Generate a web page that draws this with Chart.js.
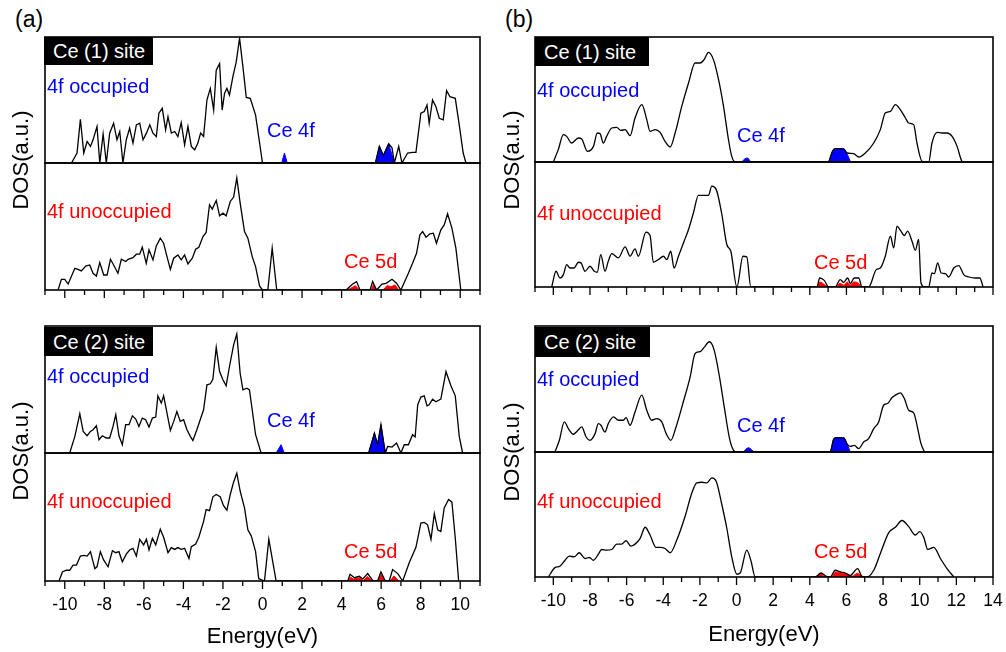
<!DOCTYPE html>
<html lang="en">
  <head>
    <meta charset="UTF-8" />
    <script src="https://cdn.jsdelivr.net/npm/chart.js@4.4.1/dist/chart.umd.min.js"></script>
    <style>
      body { margin: 0; background: #fff; }
      #fig { position: relative; width: 1006px; height: 652px; overflow: hidden; font-family: "Liberation Sans", Arial, sans-serif; }
      #fig canvas { position: absolute; }
      .lbl { position: absolute; line-height: 1; white-space: nowrap; }
      .site { position: absolute; background: #000; color: #fff; font-size: 20px; box-sizing: border-box; padding-left: 9px; }
      .ylab { position: absolute; font-size: 22px; white-space: nowrap; transform: translate(-50%, -50%) rotate(-90deg); }
    </style>
  </head>
  <body>
    <div id="fig"></div>

    <script>
      // tick labels for the two energy axes
      const aTickLabels = ["-10", "-8", "-6", "-4", "-2", "0", "2", "4", "6", "8", "10"];
      const bTickLabels = ["-10", "-8", "-6", "-4", "-2", "0", "2", "4", "6", "8", "10", "12", "14"];

      // (a) Ce(1) site, 4f occupied: total DOS and Ce 4f part  [energy eV, DOS a.u.]
      const aSite1Occ = [[-9.66,0],[-9.38,7.9],[-9.21,34.7],[-9.04,7.9],[-8.87,17.1],[-8.7,13.2],[-8.57,18.4],[-8.37,29],[-8.23,0],[-8.06,23],[-7.9,0],[-7.73,23.7],[-7.53,31.6],[-7.36,18.4],[-7.22,25],[-7.06,0],[-6.89,18.4],[-6.72,27.6],[-6.55,15.8],[-6.38,30.3],[-6.21,31.6],[-6.04,18.4],[-5.87,23.7],[-5.7,30.3],[-5.54,23.7],[-5.37,21],[-5.24,39.5],[-5.07,43.4],[-4.9,26.3],[-4.78,36.8],[-4.61,23.7],[-4.44,25],[-4.28,21],[-4.11,32],[-3.94,14.5],[-3.77,28.9],[-3.6,13.2],[-3.43,10.5],[-3.27,15.8],[-3.13,23.7],[-2.98,21],[-2.81,50],[-2.64,59.2],[-2.47,42],[-2.34,73.7],[-2.17,78.9],[-2.04,42],[-1.92,55.3],[-1.8,59.2],[-1.67,53.9],[-1.5,68.4],[-1.33,80],[-1.16,99],[-0.99,76.3],[-0.82,52],[-0.62,51.3],[-0.35,38],[0,0],[5.71,0],[5.91,13.2],[6.11,6],[6.38,15.3],[6.55,12],[6.67,0],[6.89,13.2],[7.05,0],[7.34,7.9],[7.59,8.4],[7.76,8.5],[8.01,39.5],[8.18,40.8],[8.32,46],[8.43,31.6],[8.6,50],[8.77,44.7],[8.94,35.5],[9.14,34.2],[9.31,57.4],[9.48,52.6],[9.75,51.3],[9.95,30.3],[10.15,7.9],[10.29,0]];
      const aSite1Ce4f = [[0.97,0],[1.11,7.9],[1.25,0],[5.71,0],[5.91,13.2],[6.11,6],[6.38,15.3],[6.67,0]];
      // (a) Ce(1) site, 4f unoccupied: total DOS and Ce 5d part
      const aSite1Unocc = [[-10.34,0],[-10.17,8.4],[-10,8.4],[-9.83,4.7],[-9.49,17.1],[-9.33,16.3],[-9.16,15],[-8.94,18.9],[-8.74,19.7],[-8.57,13.2],[-8.4,11],[-8.23,21.6],[-8.03,11.8],[-7.86,11.8],[-7.69,24.2],[-7.53,19.7],[-7.31,13.2],[-7.14,24.2],[-6.92,22.4],[-6.8,24.2],[-6.55,25.5],[-6.38,28.2],[-6.21,28.2],[-6.08,33.7],[-5.88,21],[-5.74,31.6],[-5.54,23.7],[-5.37,34.7],[-5.17,40.8],[-5,36.8],[-4.83,26.3],[-4.66,16.3],[-4.49,25],[-4.28,27.6],[-4.11,23.7],[-3.94,27.6],[-3.77,20.5],[-3.55,25],[-3.38,32.1],[-3.22,33.7],[-3.01,42.1],[-2.85,45.3],[-2.68,67.1],[-2.54,63.7],[-2.34,70.5],[-2.17,58.4],[-2,60.5],[-1.84,58.4],[-1.63,69.7],[-1.46,73.2],[-1.3,88.2],[-1.13,68.4],[-0.91,46],[-0.74,40.8],[-0.52,26.3],[-0.35,18.4],[-0.15,3.2],[0,0],[0.27,0],[0.49,32.9],[0.72,0],[4.23,0],[4.56,4.7],[4.76,6.6],[4.93,0],[5.44,0],[5.57,6.6],[5.77,0],[6.04,4.7],[6.25,5.3],[6.55,8.4],[6.78,5.3],[7,0],[7.34,11.8],[7.59,21],[7.79,28.9],[7.96,43.4],[8.1,46],[8.27,41.6],[8.47,44.2],[8.64,44.7],[8.8,36.8],[9.02,47.4],[9.19,51.3],[9.36,60],[9.58,48.7],[9.78,32.9],[10.03,0]];
      const aSite1Ce5d = [[4.3,0],[4.7,3.4],[4.9,0],[5.5,0],[5.6,4],[5.75,0],[6.1,0],[6.3,3.5],[6.5,2.5],[6.7,4],[6.9,0]];
      // (a) Ce(2) site
      const aSite2Occ = [[-9.75,0],[-9.49,13.1],[-9.24,30.9],[-9.07,17],[-8.87,13.6],[-8.7,17],[-8.57,18.3],[-8.4,21.5],[-8.27,10.5],[-8.1,13.6],[-7.9,11.8],[-7.73,11.8],[-7.56,20.9],[-7.42,30.1],[-7.26,13.6],[-7.09,6.5],[-6.92,22.3],[-6.75,22.3],[-6.58,29.3],[-6.41,26.7],[-6.25,20.9],[-6.08,27.5],[-5.91,26.2],[-5.74,20.4],[-5.57,27.5],[-5.4,28.3],[-5.29,45],[-5.12,39.3],[-5,45],[-4.83,31.4],[-4.66,17.8],[-4.49,24.9],[-4.33,32.7],[-4.16,24.9],[-3.99,26.2],[-3.82,18.3],[-3.65,13.1],[-3.52,9.9],[-3.32,18.3],[-3.15,26.2],[-2.98,34],[-2.81,53.7],[-2.64,54.5],[-2.51,58.1],[-2.34,83.2],[-2.17,64.1],[-2,57.6],[-1.84,52.9],[-1.67,68.1],[-1.46,85.1],[-1.3,93.7],[-1.13,62.8],[-0.99,49.7],[-0.79,51],[-0.66,49.7],[-0.52,34],[-0.35,14.4],[-0.07,0],[5.37,0],[5.66,15.7],[5.82,6.5],[5.99,22.3],[6.21,0],[6.33,5.2],[6.55,4.7],[6.78,7.9],[7,0],[7.17,6.5],[7.38,6.5],[7.59,14.4],[7.72,12.6],[7.85,38],[8.01,44],[8.18,45],[8.32,37.2],[8.43,38],[8.6,42.4],[8.77,40.3],[9.02,42.4],[9.28,64.1],[9.53,52.9],[9.75,45],[9.95,13.1],[10.12,0]];
      const aSite2Ce4f = [[0.69,0],[0.94,6.5],[1.1,0],[5.37,0],[5.66,15.7],[5.82,6.5],[5.99,22.3],[6.21,0]];
      const aSite2Unocc = [[-10.29,0],[-10.12,7.1],[-9.92,8.4],[-9.75,8.4],[-9.58,12.4],[-9.41,12.4],[-9.21,19.5],[-9.04,20],[-8.87,19.5],[-8.7,22.9],[-8.48,9.7],[-8.37,11.1],[-8.2,22.9],[-8.03,16.3],[-7.81,11.1],[-7.59,23.7],[-7.42,22.1],[-7.26,22.9],[-7.09,15],[-6.89,21],[-6.72,24.2],[-6.55,25.5],[-6.38,19.5],[-6.21,32.6],[-6.01,28.2],[-5.87,32.6],[-5.74,24.2],[-5.57,33.4],[-5.4,28.2],[-5.17,40.5],[-5,34.2],[-4.78,22.1],[-4.61,26.1],[-4.44,24.7],[-4.28,26.1],[-4.11,24.7],[-3.94,25.5],[-3.72,17.6],[-3.6,26.8],[-3.38,28.9],[-3.22,34.2],[-2.98,46.6],[-2.85,55.8],[-2.68,55],[-2.51,65.8],[-2.34,67.6],[-2.14,65.8],[-1.97,58.9],[-1.8,55.3],[-1.63,67.6],[-1.46,77.4],[-1.3,84.2],[-1.13,70.3],[-0.91,57.1],[-0.74,40],[-0.57,35.3],[-0.35,22.9],[-0.19,1.8],[0.1,0],[0.32,32.6],[0.69,0],[4.31,0],[4.43,5.3],[4.65,2.6],[4.9,3.7],[5.07,1.6],[5.32,5.8],[5.57,0.5],[5.82,0],[5.99,7.1],[6.21,0],[6.41,0],[6.58,8.9],[6.84,5.8],[7.09,0],[7.42,14.2],[7.76,26.3],[8.01,45.3],[8.18,45.8],[8.35,43.9],[8.52,32.6],[8.69,52.6],[8.86,40],[9.02,38.7],[9.19,57.1],[9.41,63.7],[9.58,61.6],[9.75,33.4],[9.92,0]];
      const aSite2Ce5d = [[4.35,0],[4.45,3],[4.6,1.5],[4.9,2.5],[5.1,0.5],[5.3,3.5],[5.55,0],[5.85,0],[6,5],[6.2,0],[6.45,0],[6.65,4],[6.9,0]];

      // (b) Ce(1) site
      const bSite1Occ = [[-10,0],[-9.73,9.9],[-9.45,21.9],[-9.27,20.5],[-9,15.2],[-8.63,19.2],[-8.45,18.4],[-8.14,8.5],[-7.81,12.5],[-7.6,23.2],[-7.45,22.7],[-7.27,15.2],[-7.09,20.5],[-6.81,27.2],[-6.54,27.7],[-6.32,25.3],[-6.08,25.9],[-5.81,21.1],[-5.54,35.2],[-5.17,45.9],[-4.9,33.9],[-4.72,24.5],[-4.44,25.9],[-4.17,23.7],[-3.9,16.5],[-3.62,12],[-3.35,23.2],[-2.99,44.5],[-2.62,63.2],[-2.26,79.2],[-1.99,79.2],[-1.77,81.9],[-1.53,87.7],[-1.26,81.9],[-0.98,65.9],[-0.71,44.5],[-0.44,17.9],[-0.26,4.5],[-0.07,0],[5,0],[5.25,9],[5.4,10.7],[5.85,10.5],[6.03,7.2],[6.39,6.7],[6.67,4],[7.03,7.2],[7.49,15.2],[7.85,25.9],[8.12,39.2],[8.4,40.5],[8.67,45.9],[8.94,41.9],[9.22,35.2],[9.4,31.2],[9.67,29.9],[9.85,15.2],[10.13,0.5],[10.49,0],[10.67,15.2],[10.95,23.7],[11.22,23.2],[11.49,23.2],[11.77,20.5],[12.04,12.5],[12.31,0.5],[12.4,0]];
      const bSite1Ce4f = [[0.28,0],[0.45,2.5],[0.6,3.2],[0.8,0],[5,0],[5.25,9],[5.4,10.7],[5.85,10.5],[6.05,6],[6.22,0]];
      const bSite1Unocc = [[-10.09,0],[-9.85,12.6],[-9.64,7.2],[-9.45,9.9],[-9.27,17.9],[-9.09,15.2],[-8.87,15.2],[-8.63,19.8],[-8.49,19.3],[-8.27,12.6],[-8,16.6],[-7.76,12.6],[-7.6,11.8],[-7.41,25.9],[-7.18,12.6],[-7,20.6],[-6.81,26.7],[-6.45,23.3],[-6.08,32.1],[-5.81,24.6],[-5.54,30.5],[-5.36,24.6],[-4.94,43.9],[-4.72,41.2],[-4.54,19.8],[-4.27,21.9],[-3.99,24.6],[-3.81,21.9],[-3.59,28.6],[-3.41,15.2],[-3.17,24.6],[-2.86,36.6],[-2.62,46],[-2.35,59.4],[-2.08,73.3],[-1.77,73.3],[-1.53,73.3],[-1.35,80.7],[-1.11,78.1],[-0.8,58],[-0.53,34],[-0.31,28.6],[0.02,0],[0.35,24.6],[0.56,24.1],[0.78,0],[4.39,0],[4.54,7.2],[4.79,5.3],[5.03,0],[5.39,0],[5.66,5.9],[5.85,3.7],[6.07,7.2],[6.21,2.7],[6.43,7.2],[6.67,7.2],[6.85,0],[7.21,0],[7.63,13.9],[7.85,15.2],[8.12,24.6],[8.4,40.6],[8.58,31.3],[8.76,48.7],[8.94,45.5],[9.16,41.2],[9.34,44.7],[9.58,36.6],[9.76,29.4],[9.94,38],[10.07,3.2],[10.26,0],[10.49,0],[10.67,11.2],[10.8,10.7],[10.98,19.3],[11.17,11.2],[11.4,10.7],[11.58,8],[11.86,15.2],[12.13,17.1],[12.4,9.9],[12.68,8],[13.04,7.2],[13.28,7.2],[13.46,0]];
      const bSite1Ce5d = [[4.4,0],[4.55,4],[4.8,2],[5,0],[5.45,0],[5.65,3],[5.85,1.5],[6.05,4],[6.2,1.5],[6.4,4],[6.65,3],[6.8,0]];
      // (b) Ce(2) site
      const bSite2Occ = [[-9.91,0],[-9.67,9.3],[-9.4,23.9],[-9.18,18.6],[-8.91,14.1],[-8.69,16.7],[-8.45,19.9],[-8.21,11.9],[-8,9.3],[-7.72,14.6],[-7.54,22.5],[-7.4,21.2],[-7.18,15.9],[-7,22.5],[-6.72,27.9],[-6.45,25.2],[-6.18,25.2],[-6.03,27.3],[-5.81,21.2],[-5.54,31.8],[-5.17,45.1],[-4.9,33.2],[-4.63,25.2],[-4.36,26.5],[-4.08,23.9],[-3.84,14.6],[-3.59,9.3],[-3.3,19.9],[-2.93,38.5],[-2.53,59.7],[-2.26,78.2],[-1.99,79.6],[-1.77,83],[-1.48,87.5],[-1.22,80.9],[-0.93,59.7],[-0.67,35.8],[-0.38,10.6],[-0.16,1.3],[0.02,0],[5.1,0],[5.3,10],[5.42,11.4],[5.85,11.2],[6.05,6],[6.21,4.5],[6.43,5.3],[6.67,2.7],[6.94,8],[7.21,10.6],[7.49,18.6],[7.76,23.9],[8.03,37.1],[8.25,38.5],[8.49,43.2],[8.67,45.1],[8.94,46.9],[9.16,42.4],[9.4,33.2],[9.67,31],[9.89,18.6],[10.07,6.6],[10.26,0]];
      const bSite2Ce4f = [[0.35,0],[0.66,3.4],[1,0],[5.1,0],[5.3,10],[5.42,11.4],[5.85,11.2],[6.05,6],[6.21,0]];
      const bSite2Unocc = [[-10.27,0],[-9.91,7.5],[-9.64,8.6],[-9.36,13.4],[-9.13,16.7],[-8.87,16.1],[-8.58,19.4],[-8.27,14.8],[-8.03,15.6],[-7.81,13.4],[-7.54,18.3],[-7.36,22],[-7.09,21.5],[-6.81,22],[-6.54,26.3],[-6.27,26.3],[-6.03,29],[-5.77,24.7],[-5.54,26.3],[-5.26,30.9],[-4.99,39.8],[-4.72,33.6],[-4.39,23.7],[-4.17,23.7],[-3.9,22.8],[-3.62,19.4],[-3.26,29.6],[-2.81,48.4],[-2.44,67.2],[-2.17,75.3],[-1.89,75.8],[-1.62,75.3],[-1.35,79.3],[-1.11,76.6],[-0.8,57.8],[-0.53,39],[-0.26,16.1],[0.02,2.2],[0.2,3.2],[0.56,21.5],[0.78,13.4],[1.02,0],[4.3,0],[4.61,3.2],[4.9,0.5],[5.12,0],[5.39,5.4],[5.66,4],[5.94,3.2],[6.21,1.3],[6.61,6.7],[6.85,0.5],[7.12,0],[7.49,5.4],[7.85,18.8],[8.31,35.5],[8.67,39.8],[9.03,45.2],[9.4,40.3],[9.76,33.6],[10,36.3],[10.22,31.7],[10.44,22],[10.77,23.7],[11.13,14.8],[11.49,6.7],[11.86,0]];
      const bSite2Ce5d = [[4.35,0],[4.6,2.5],[4.85,0],[5.2,0],[5.4,4],[5.7,3],[6,2.5],[6.3,0.5],[6.6,3],[6.85,0]];

      const BLUE = "#0000ff";
      const RED = "#ff0000";
      const fig = document.getElementById("fig");
      const toXY = (pts) => pts.map((p) => ({ x: p[0], y: p[1] }));

      // frame round each panel plus the outward ticks under each group
      const framePlugin = {
        id: "frame",
        afterDraw(chart, args, opts) {
          const { ctx, chartArea: a } = chart;
          const x = chart.scales.x;
          ctx.save();
          ctx.strokeStyle = "#000";
          ctx.lineWidth = 1.6;
          ctx.strokeRect(a.left, a.top, a.right - a.left, a.bottom - a.top);
          if (opts.ticks) {
            ctx.lineWidth = 1.3;
            for (let v = -11; v <= x.max; v++) {
              const px = x.getPixelForValue(v);
              const len = v % 2 === 0 ? 8 : 5;
              ctx.beginPath();
              ctx.moveTo(px, a.bottom);
              ctx.lineTo(px, a.bottom + len);
              ctx.stroke();
            }
          }
          ctx.restore();
        },
      };

      // mode: 0 = bare panel, 1 = ticks under it, 2 = ticks + labels + axis title
      function makePanel(box, xMax, labels, total, part, partColor, mode, smooth) {
        const padX = 20, padY = 3;
        const axisH = mode === 2 ? box.axisH : mode === 1 ? 10 : 0;
        const cv = document.createElement("canvas");
        cv.width = box.w + 2 * padX;
        cv.height = box.h + 2 * padY + axisH;
        cv.style.left = box.x - padX + "px";
        cv.style.top = box.y - padY + "px";
        fig.appendChild(cv);
        new Chart(cv, {
          type: "line",
          data: {
            datasets: [
              {
                data: toXY(total),
                borderColor: "#000",
                borderWidth: 1.3,
                pointRadius: 0,
                fill: false,
                cubicInterpolationMode: smooth ? "monotone" : "default",
                tension: 0,
              },
              {
                data: toXY(part),
                borderColor: partColor,
                backgroundColor: partColor,
                borderWidth: 1,
                pointRadius: 0,
                fill: "origin",
                cubicInterpolationMode: smooth ? "monotone" : "default",
                tension: 0,
              },
            ],
          },
          options: {
            responsive: false,
            animation: false,
            layout: { padding: { left: padX, right: padX, top: padY, bottom: padY } },
            plugins: {
              legend: { display: false },
              tooltip: { enabled: false },
              frame: { ticks: mode > 0 },
            },
            scales: {
              x: {
                type: "linear",
                min: -11,
                max: xMax,
                display: mode === 2,
                grid: { display: false, drawTicks: false },
                border: { display: false },
                ticks: {
                  stepSize: 1,
                  autoSkip: false,
                  maxRotation: 0,
                  padding: 14,
                  color: "#000",
                  font: { family: "Liberation Sans, Arial, sans-serif", size: 17.5 },
                  callback: (v) => (labels.includes(String(v)) ? String(v) : ""),
                },
                title: {
                  display: true,
                  text: "Energy(eV)",
                  color: "#000",
                  font: { family: "Liberation Sans, Arial, sans-serif", size: 22 },
                  padding: { top: 4, bottom: 4 },
                },
                afterFit: (s) => {
                  // keep the plot box fixed: the end labels may spill into the side margin
                  s.height = axisH;
                  s.paddingLeft = 0;
                  s.paddingRight = 0;
                },
              },
              y: { display: false, min: 0, max: 100 },
            },
          },
          plugins: [framePlugin],
        });
      }

      // left column (a)
      makePanel({ x: 45, y: 37, w: 435, h: 126 }, 11, aTickLabels, aSite1Occ, aSite1Ce4f, BLUE, 0, false);
      makePanel({ x: 45, y: 163, w: 435, h: 127 }, 11, aTickLabels, aSite1Unocc, aSite1Ce5d, RED, 1, false);
      makePanel({ x: 45, y: 326, w: 435, h: 127 }, 11, aTickLabels, aSite2Occ, aSite2Ce4f, BLUE, 0, false);
      makePanel({ x: 45, y: 453, w: 435, h: 128, axisH: 73 }, 11, aTickLabels, aSite2Unocc, aSite2Ce5d, RED, 2, false);
      // right column (b)
      makePanel({ x: 535, y: 37, w: 458, h: 125 }, 14, bTickLabels, bSite1Occ, bSite1Ce4f, BLUE, 0, true);
      makePanel({ x: 535, y: 162, w: 458, h: 125 }, 14, bTickLabels, bSite1Unocc, bSite1Ce5d, RED, 1, true);
      makePanel({ x: 535, y: 326, w: 458, h: 126 }, 14, bTickLabels, bSite2Occ, bSite2Ce4f, BLUE, 0, true);
      makePanel({ x: 535, y: 452, w: 458, h: 125, axisH: 75 }, 14, bTickLabels, bSite2Unocc, bSite2Ce5d, RED, 2, true);

      // text placed by baseline
      function addText(txt, x, baseline, size, color) {
        const d = document.createElement("div");
        d.className = "lbl";
        d.textContent = txt;
        d.style.left = x + "px";
        d.style.top = baseline - 0.85 * size + "px";
        d.style.fontSize = size + "px";
        d.style.color = color;
        fig.appendChild(d);
      }
      function addSite(txt, x, y, w, h) {
        const d = document.createElement("div");
        d.className = "site";
        d.textContent = txt;
        d.style.left = x + "px";
        d.style.top = y + "px";
        d.style.width = w + "px";
        d.style.height = h + "px";
        d.style.lineHeight = h + 1 + "px";
        fig.appendChild(d);
      }
      function addYLabel(cx, cy) {
        const d = document.createElement("div");
        d.className = "ylab";
        d.textContent = "DOS(a.u.)";
        d.style.left = cx + "px";
        d.style.top = cy + "px";
        fig.appendChild(d);
      }

      addText("(a)", 15, 28, 23, "#000");
      addText("(b)", 505, 28, 23, "#000");

      addSite("Ce (1) site", 44, 37, 109, 28);
      addText("4f occupied", 47, 93, 20, BLUE);
      addText("Ce 4f", 267, 137, 20, BLUE);
      addText("4f unoccupied", 47, 218, 20, RED);
      addText("Ce 5d", 344, 268, 20, RED);
      addSite("Ce (2) site", 44, 327, 109, 29);
      addText("4f occupied", 47, 383, 20, BLUE);
      addText("Ce 4f", 267, 427, 20, BLUE);
      addText("4f unoccupied", 47, 508, 20, RED);
      addText("Ce 5d", 344, 558, 20, RED);

      addSite("Ce (1) site", 535, 37, 114, 29);
      addText("4f occupied", 537, 97, 20, BLUE);
      addText("Ce 4f", 737, 142, 20, BLUE);
      addText("4f unoccupied", 537, 220, 20, RED);
      addText("Ce 5d", 814, 269, 20, RED);
      addSite("Ce (2) site", 535, 327, 115, 30);
      addText("4f occupied", 537, 386, 20, BLUE);
      addText("Ce 4f", 737, 432, 20, BLUE);
      addText("4f unoccupied", 537, 508, 20, RED);
      addText("Ce 5d", 814, 558, 20, RED);

      addYLabel(21, 160);
      addYLabel(21, 451);
      addYLabel(512, 160);
      addYLabel(512, 452);
    </script>
  </body>
</html>
